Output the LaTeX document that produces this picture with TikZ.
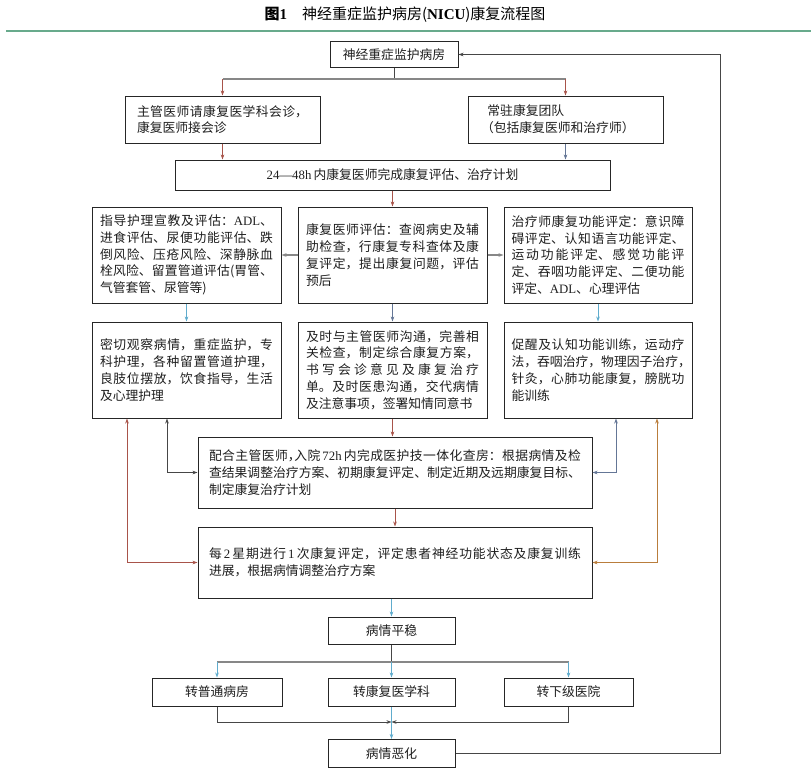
\documentclass[tikz,border=0pt]{standalone}
\usepackage{fontspec}
\setmainfont{Noto Sans CJK SC}
\newfontfamily\lt{Liberation Serif}
\usetikzlibrary{arrows.meta}
\XeTeXlinebreaklocale "zh"
\XeTeXlinebreakskip=0pt plus 2pt
\newcommand\jb{\penalty-10000\relax}
\newcommand\hc{\makebox[0.5em][l]{，}}
\definecolor{cred}{RGB}{168,84,74}
\definecolor{cblue}{RGB}{96,172,205}
\definecolor{cgray}{RGB}{135,135,135}
\definecolor{cslate}{RGB}{100,118,150}
\definecolor{cdark}{RGB}{70,70,70}
\definecolor{corange}{RGB}{185,125,60}
\definecolor{cgreen}{RGB}{104,170,140}
\definecolor{ctext}{RGB}{30,30,30}
\tikzset{
  box/.style={draw=black!85, line width=1pt, inner sep=0pt, text=ctext,
    font=\fontsize{12.8}{16.8}\selectfont},
  sbox/.style={box, minimum width=#1, minimum height=27pt, align=center},
  jbox/.style={box, align=justify, text width=#1},
  ar/.style={-{Stealth[length=5pt,width=3.6pt]}, line width=0.8pt},
  dar/.style={{Stealth[length=5pt,width=3.6pt]}-{Stealth[length=5pt,width=3.6pt]}, line width=0.8pt},
  ln/.style={line width=0.8pt},
  hl/.style={line width=1.4pt, cgray}
}
\begin{document}
\begin{tikzpicture}[x=1pt,y=-1pt]
\useasboundingbox (0,0) rectangle (811,780);
\node (title) at (405,14.5) {\fontsize{15}{18}\selectfont\textbf{图{\lt 1}}\quad 神经重症监护病房({\lt\bfseries NICU})康复流程图};
\coordinate (gl) at (6,31);
\coordinate (gr) at (811,31);
\draw[cgreen, line width=1.6pt] (gl) -- (gr);

\node[sbox=128pt, minimum height=26pt] (top) at (394,54.5) {神经重症监护病房};
\node[jbox=171pt, minimum width=195pt, minimum height=47pt] (b2) at (222.5,119.5) {主管医师请康复医学科会诊，\jb 康复医师接会诊};
\node[box, align=left, text width=169pt, minimum width=195pt, minimum height=47pt] (b3) at (565.5,119.5) {\hspace*{0.5em}常驻康复团队\\（包括康复医师和治疗师）};
\node[sbox=435pt, minimum height=30pt] (b4) at (392.5,175) {{\lt 24—48h}\,内康复医师完成康复评估、治疗计划};

\node[jbox=173pt, minimum width=189pt, minimum height=96pt] (b5) at (186.5,255) {指导护理宣教及评估：{\lt ADL}、\jb 进食评估、尿便功能评估、跌\jb 倒风险、压疮风险、深静脉血\jb 栓风险、留置管道评估(胃管、\jb 气管套管、尿管等)};
\node[jbox=173pt, minimum width=189pt, minimum height=96pt] (b6) at (392.5,255) {康复医师评估：查阅病史及辅\jb 助检查，行康复专科查体及康\jb 复评定，提出康复问题，评估\jb 预后};
\node[jbox=173pt, minimum width=188pt, minimum height=96pt] (b7) at (598,255) {治疗师康复功能评定：意识障\jb 碍评定、认知语言功能评定、\jb 运动功能评定、感觉功能评\jb 定、吞咽功能评定、二便功能\jb 评定、{\lt ADL}、心理评估};

\node[jbox=173pt, minimum width=189pt, minimum height=96pt] (b8) at (186.5,370) {密切观察病情，重症监护，专\jb 科护理，各种留置管道护理，\jb 良肢位摆放，饮食指导，生活\jb 及心理护理};
\node[jbox=173pt, minimum width=189pt, minimum height=96pt] (b9) at (392.5,370) {及时与主管医师沟通，完善相\jb 关检查，制定综合康复方案，\jb 书写会诊意见及康复治疗\jb 单。及时医患沟通，交代病情\jb 及注意事项，签署知情同意书};
\node[jbox=173pt, minimum width=188pt, minimum height=96pt] (b10) at (598,370) {促醒及认知功能训练，运动疗\jb 法，吞咽治疗，物理因子治疗\hc\jb 针灸，心肺功能康复，膀胱功\jb 能训练};

\node[jbox=372pt, minimum width=394pt, minimum height=71pt] (b11) at (395,472.5) {配合主管医师\hc 入院{\lt\,72h\,}内完成医护技一体化查房：根据病情及检\jb 查结果调整治疗方案、初期康复评定、制定近期及远期康复目标、\jb 制定康复治疗计划};
\node[jbox=372pt, minimum width=394pt, minimum height=71pt] (b12) at (395,562.5) {每{\lt\,2\,}星期进行{\lt\,1\,}次康复评定，评定患者神经功能状态及康复训练\jb 进展，根据病情调整治疗方案};

\node[sbox=127pt, minimum height=27pt] (b13) at (391.5,630.5) {病情平稳};
\node[sbox=130pt, minimum height=28pt] (c1) at (217,692) {转普通病房};
\node[sbox=127pt, minimum height=28pt] (c2) at (391.5,692) {转康复医学科};
\node[sbox=129pt, minimum height=28pt] (c3) at (568.5,692) {转下级医院};
\node[sbox=127pt, minimum height=28pt] (bad) at (391.5,753.5) {病情恶化};

% top split
\coordinate (s1) at (394,79);
\draw[ln, cdark] (top.south) -- (s1);
\draw[hl] (b2.north |- s1) -- (b3.north |- s1);
\draw[ar, cred] (b2.north |- s1) -- (b2.north);
\draw[ar, cred] (b3.north |- s1) -- (b3.north);
\draw[ar, cred] (b2.south) -- (b2.south |- b4.north);
\draw[ar, cslate] (b3.south) -- (b3.south |- b4.north);
\draw[ar, cred] (b4.south) -- (b6.north);
\draw[ar, cgray, line width=1.1pt] (b6.west) -- (b5.east);
\draw[ar, cgray, line width=1.1pt] (b6.east) -- (b7.west);
\draw[ar, cblue] (b5.south) -- (b8.north);
\draw[ar, cslate] (b6.south) -- (b9.north);
\draw[ar, cblue] (b7.south) -- (b10.north);
\draw[ar, cred] (b9.south) -- (b9.south |- b11.north);
\draw[ar, cred] (b11.south) -- (b11.south |- b12.north);
\draw[ar, cblue] (b12.south -| b13.north) -- (b13.north);

% feedback
\coordinate (xl1) at (167,0);
\coordinate (xl2) at (127,0);
\coordinate (xr1) at (616,0);
\coordinate (xr2) at (657,0);
\draw[dar, cdark] (b11.west) -| (xl1 |- b8.south);
\draw[dar, cred] (b12.west) -| (xl2 |- b8.south);
\draw[dar, cslate] (b11.east) -| (xr1 |- b10.south);
\draw[dar, corange] (b12.east) -| (xr2 |- b10.south);

% bottom split
\coordinate (s2) at (391.5,662);
\draw[ln, cdark] (b13.south) -- (s2);
\draw[hl] (c1.north |- s2) -- (c3.north |- s2);
\draw[ar, cblue] (c1.north |- s2) -- (c1.north);
\draw[ar, cblue] (s2) -- (c2.north);
\draw[ar, cblue] (c3.north |- s2) -- (c3.north);

% merge
\coordinate (m) at (391.5,722);
\draw[ar, cdark] (c1.south) |- (m);
\draw[ar, cdark] (c3.south) |- (m);
\draw[ar, cblue] (c2.south) -- (bad.north);

% loop
\coordinate (lp) at (720,753.5);
\draw[ar, cdark, line width=1pt] (bad.east) -- (lp) |- (top.east);
\end{tikzpicture}
\end{document}
